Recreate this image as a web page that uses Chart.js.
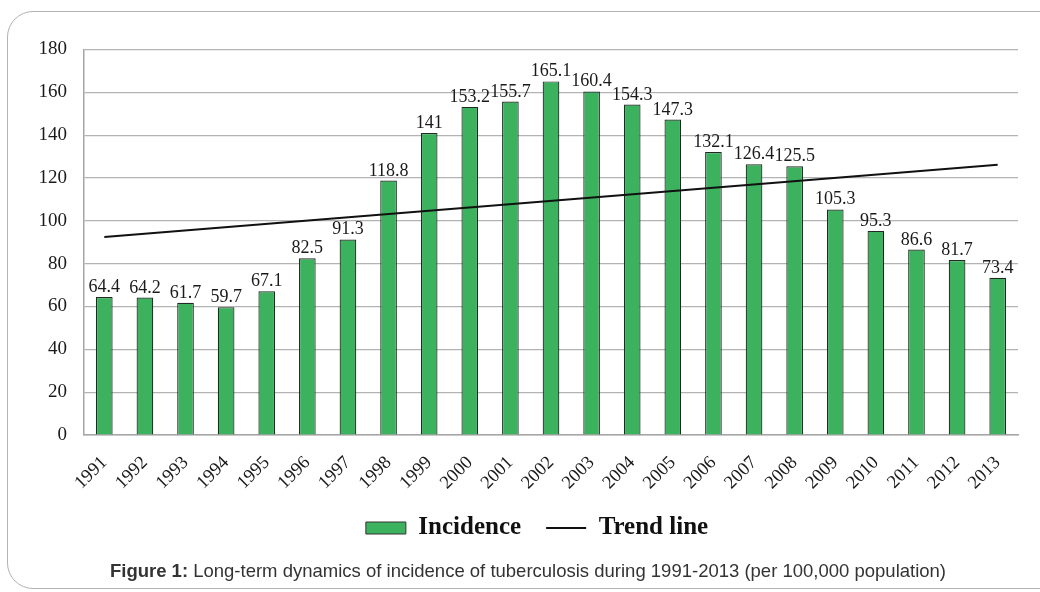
<!DOCTYPE html>
<html>
<head>
<meta charset="utf-8">
<script src="https://cdn.jsdelivr.net/npm/chart.js@4/dist/chart.umd.min.js"></script>
<style>
html,body{margin:0;padding:0;background:#fff;width:1040px;height:592px;overflow:hidden;}
#frame{position:absolute;left:7px;top:11px;width:1080px;height:578px;border:1.3px solid #b3b3b3;border-radius:26px;box-sizing:border-box;}
#wrap{position:absolute;left:0;top:0;width:1040px;height:592px;}
#caption{position:absolute;left:0;width:1056px;top:560px;text-align:center;font-family:"Liberation Sans",Arial,sans-serif;font-size:18.5px;color:#333;}
</style>
</head>
<body>
<div id="frame"></div>
<div id="wrap"><canvas id="c" width="1040" height="592"></canvas></div>
<div id="caption"><b>Figure 1:</b> Long-term dynamics of incidence of tuberculosis during 1991-2013 (per 100,000 population)</div>
<script>
const years = ["1991","1992","1993","1994","1995","1996","1997","1998","1999","2000","2001","2002","2003","2004","2005","2006","2007","2008","2009","2010","2011","2012","2013"];
const incidence = [64.4,64.2,61.7,59.7,67.1,82.5,91.3,118.8,141,153.2,155.7,165.1,160.4,154.3,147.3,132.1,126.4,125.5,105.3,95.3,86.6,81.7,73.4];
const trendLine = [92.5,null,null,null,null,null,null,null,null,null,null,null,null,null,null,null,null,null,null,null,null,null,126.2];
const yTicks = [0,20,40,60,80,100,120,140,160,180];

const serif = '"Liberation Serif","Times New Roman",serif';
const green = 'rgb(60,178,94)';

const barLabels = {
  id:'barLabels',
  afterLayout(chart){
    if (chart.legend){ chart.legend.left += 28; chart.legend.right += 28; }
  },
  afterDatasetsDraw(chart){
    const ctx = chart.ctx;
    const meta = chart.getDatasetMeta(1);
    ctx.save();
    ctx.font = '18px ' + serif;
    ctx.fillStyle = '#1a1a1a';
    ctx.textAlign = 'center';
    ctx.textBaseline = 'alphabetic';
    meta.data.forEach((bar,i)=>{
      ctx.fillText(String(incidence[i]), bar.x, bar.y - 5);
    });
    ctx.restore();
  }
};

new Chart(document.getElementById('c'), {
  data:{
    labels: years,
    datasets:[
      {type:'line', label:'Trend line', data: trendLine, borderColor:'#111', backgroundColor:'#111', borderWidth:2, pointRadius:0, spanGaps:true, order:0},
      {type:'bar', label:'Incidence', data: incidence, backgroundColor: green, borderColor:'#1f2a22', borderWidth:1.2, categoryPercentage:1, barPercentage:0.41, order:1}
    ]
  },
  options:{
    responsive:false,
    animation:false,
    layout:{padding:{left:0,right:22,top:49.5,bottom:41.5}},
    plugins:{
      tooltip:{enabled:false},
      legend:{
        position:'bottom',
        labels:{
          font:{family:serif,size:25,weight:'bold'},
          color:'#111',
          usePointStyle:true,
          pointStyleWidth:40,
          boxHeight:12,
          padding:25,
          generateLabels(chart){
            return [
              {text:'Incidence', fillStyle:green, strokeStyle:'#333', lineWidth:1, pointStyle:'rect', datasetIndex:1, fontColor:'#111'},
              {text:'Trend line', fillStyle:'#111', strokeStyle:'#111', lineWidth:2, pointStyle:'line', datasetIndex:0, fontColor:'#111'}
            ];
          }
        }
      }
    },
    scales:{
      x:{
        grid:{display:false, drawTicks:false},
        border:{display:true,color:'#a6a6a6',width:1.5},
        ticks:{font:{family:serif,size:18.5},color:'#1a1a1a',maxRotation:45,minRotation:45,padding:17,autoSkip:false},
        afterFit(s){ s.height = 55.5; }
      },
      y:{
        min:0,max:180,
        afterBuildTicks(s){ s.ticks = yTicks.map(v=>({value:v})); },
        grid:{color:'#b3b3b3',lineWidth:1.2,drawTicks:false},
        border:{display:true,color:'#a6a6a6',width:1.5},
        ticks:{font:{family:serif,size:19},color:'#1a1a1a',padding:17},
        afterFit(s){ s.width = 84; }
      }
    }
  },
  plugins:[barLabels]
});
</script>
</body>
</html>
